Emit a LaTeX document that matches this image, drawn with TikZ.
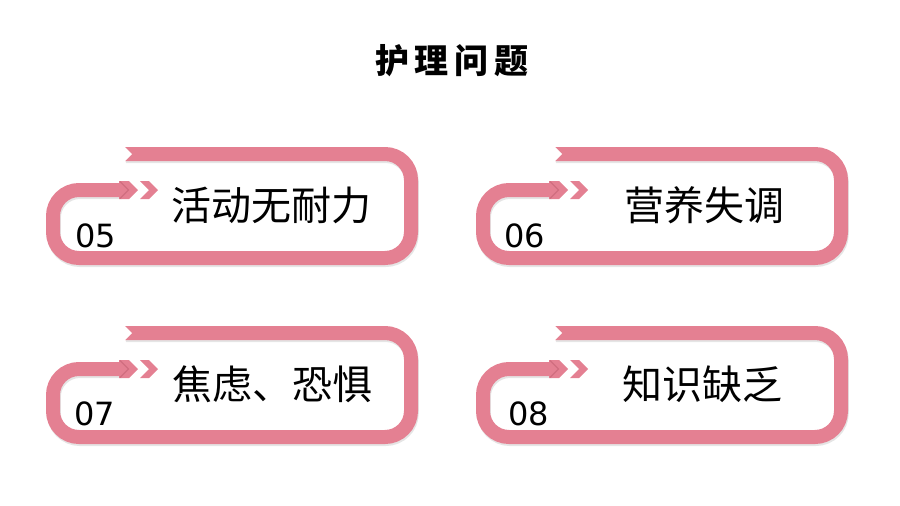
\documentclass[tikz,border=0pt]{standalone}
\usepackage{fontspec}
\setmainfont{DejaVu Sans}
\newfontfamily\cjk{Noto Sans CJK SC}
\definecolor{ribbonpink}{RGB}{228,128,146}
\definecolor{ribbondark}{RGB}{190,92,110}

\tikzset{
	band/.style={line width=14pt, rounded corners=26pt},
	numtext/.style={anchor=base, font=\fontsize{32pt}{36pt}\selectfont},
	labeltext/.style={anchor=base, font=\cjk\fontsize{40pt}{46pt}\selectfont},
	pics/ribbon/.style={code={
		% soft shadow, then the band itself
		\draw[band, black!10, shift={(0.8,2)}] (125,154) -- (411,154) -- (411,258) -- (53,258) -- (53,190) -- (121,190);
		\draw[band, ribbonpink] (125,154) -- (411,154) -- (411,258) -- (53,258) -- (53,190) -- (121,190);
		\fill[ribbonpink] (119,181) -- (129,181) -- (138,190) -- (129,199) -- (119,199) -- cycle;
		\draw[ribbondark, line width=1.2pt, opacity=.5] (120,181.5) -- (128.5,190) -- (120,198.5);
		\fill[ribbonpink] (140,181) -- (149,181) -- (158,190) -- (149,199) -- (140,199) -- (149,190) -- cycle;
		\fill[white] (124.5,146.5) -- (132,154) -- (124.5,161.5) -- cycle;
	}}
}

\begin{document}
\begin{tikzpicture}[x=1pt, y=-1pt]
	\useasboundingbox (0,0) rectangle (900,506);
	
	\node (title) at (452,73) [anchor=base, font=\cjk\bfseries\fontsize{34pt}{40pt}\selectfont] {护\hspace{6pt}理\hspace{6pt}问\hspace{6pt}题};
	
	\begin{scope}
	\pic {ribbon};
	\node (num5) at (96,247) [numtext] {05};
	\node (item5) at (271,220) [labeltext] {活动无耐力};
	\end{scope}
	
	\begin{scope}[shift={(430,0)}]
	\pic {ribbon};
	\node (num6) at (95,247) [numtext] {06};
	\node (item6) at (274,220) [labeltext] {营养失调};
	\end{scope}
	
	\begin{scope}[shift={(0,179)}]
	\pic {ribbon};
	\node (num7) at (95,246) [numtext] {07};
	\node (item7) at (272,220) [labeltext] {焦虑、恐惧};
	\end{scope}
	
	\begin{scope}[shift={(430,179)}]
	\pic {ribbon};
	\node (num8) at (99,246) [numtext] {08};
	\node (item8) at (272,220) [labeltext] {知识缺乏};
	\end{scope}
\end{tikzpicture}
\end{document}
